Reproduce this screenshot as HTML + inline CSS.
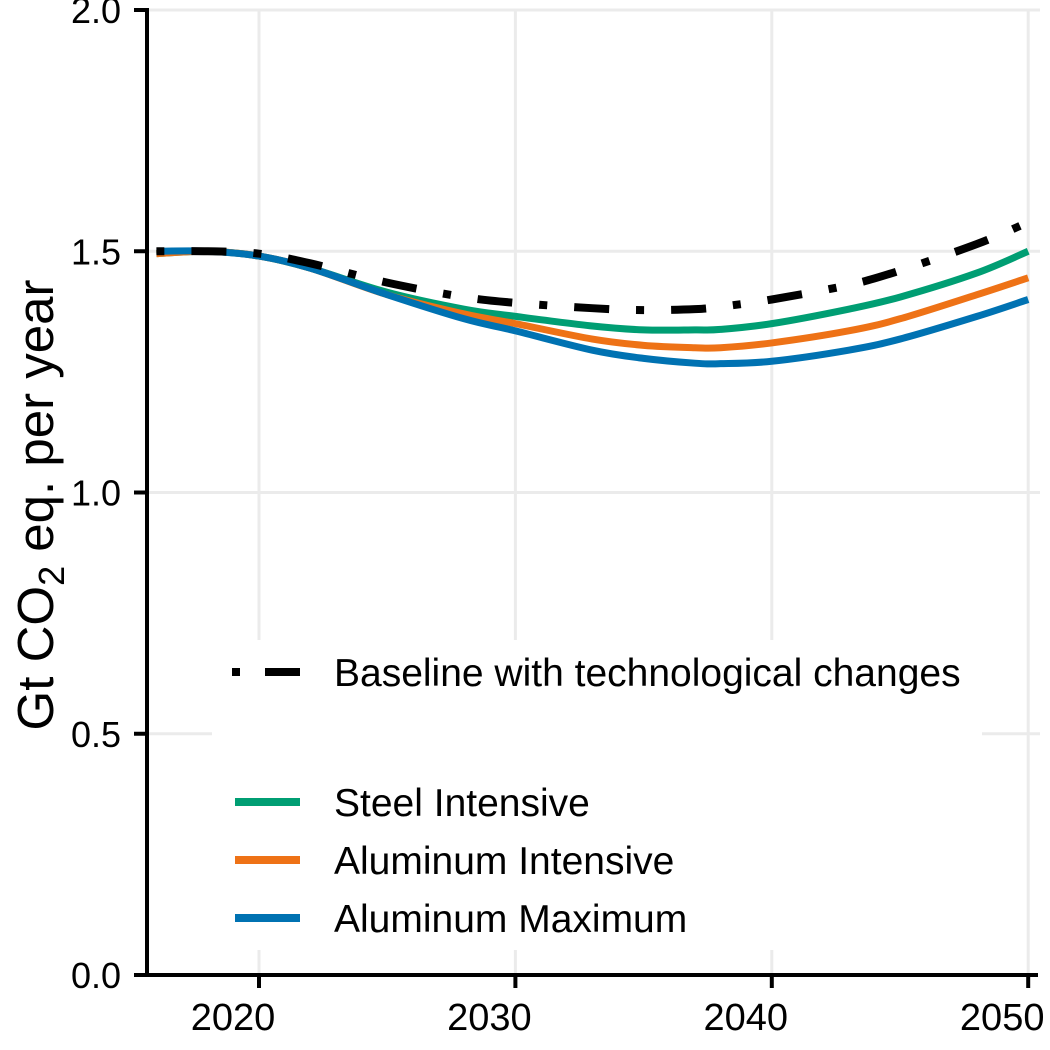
<!DOCTYPE html>
<html><head><meta charset="utf-8"><style>
body{margin:0;background:#fff;}
svg{display:block;font-family:"Liberation Sans",Arial,sans-serif;}
</style></head><body>
<svg id="chart" width="1050" height="1050" viewBox="0 0 1050 1050">
<g id="grid"></g>
<rect x="212" y="640" width="770" height="310" fill="#fff"/>
<g id="series"></g>
<g id="axes"></g>
<text transform="translate(53,505) rotate(-90)" text-anchor="middle" font-size="51" fill="#000">Gt CO<tspan font-size="36" dy="11">2</tspan><tspan dy="-11"> eq. per year</tspan></text>
<g font-size="39">
<line x1="232" y1="672" x2="300" y2="672" stroke="#000" stroke-width="8" stroke-dasharray="8 25 35 25"/>
<text x="334" y="686">Baseline with technological changes</text>
<line x1="235" y1="802" x2="300" y2="802" stroke="#009E73" stroke-width="8"/>
<text x="334" y="816">Steel Intensive</text>
<line x1="235" y1="860" x2="300" y2="860" stroke="#EE7216" stroke-width="8"/>
<text x="334" y="874">Aluminum Intensive</text>
<line x1="235" y1="918" x2="300" y2="918" stroke="#0072B2" stroke-width="8"/>
<text x="334" y="932">Aluminum Maximum</text>
</g>
</svg>
<script>
const years = [2016,2018,2020,2022,2025,2028,2030,2033,2035,2037,2038,2040,2043,2045,2048,2050];
const steel = [1.495,1.5,1.49,1.465,1.415,1.38,1.365,1.345,1.337,1.337,1.338,1.35,1.38,1.405,1.455,1.50];
const aluInt = [1.495,1.5,1.49,1.465,1.41,1.37,1.35,1.318,1.305,1.30,1.30,1.31,1.335,1.36,1.41,1.445];
const aluMax = [1.5,1.5,1.49,1.465,1.41,1.36,1.335,1.295,1.278,1.268,1.267,1.272,1.295,1.318,1.365,1.40];
const baseline = [1.5,1.5,1.495,1.475,1.435,1.405,1.393,1.382,1.378,1.38,1.385,1.40,1.43,1.46,1.515,1.56];
const xTicks = [2020,2030,2040,2050];
const yTicks = [0,0.5,1.0,1.5,2.0];
const yTickLabels = ["0.0","0.5","1.0","1.5","2.0"];

const NS="http://www.w3.org/2000/svg";
const x = yr => 259 + (yr-2020)*25.64;
const y = v => 975 - v*482.5;
function mk(tag, attrs, parent){const e=document.createElementNS(NS,tag);for(const k in attrs)e.setAttribute(k,attrs[k]);parent.appendChild(e);return e;}
const grid=document.getElementById('grid'), axes=document.getElementById('axes'), series=document.getElementById('series');
yTicks.forEach((t,i)=>{
  if(t>0){const g=mk('line',{x1:147,x2:1040,y1:y(t),y2:y(t),stroke:'#ebebeb','stroke-width':3},grid);
  
  }
  const tk=mk('line',{x1:134,x2:147,y1:y(t),y2:y(t),stroke:'#000','stroke-width':4},axes);
  
  
  const lb=mk('text',{x:121,y:y(t)+13,'text-anchor':'end','font-size':36,fill:'#000'},axes);
  lb.textContent=yTickLabels[i];
  
  
});
xTicks.forEach((t,i)=>{
  const g=mk('line',{x1:x(t),x2:x(t),y1:10,y2:975,stroke:'#ebebeb','stroke-width':3},grid);
  
  
  const tk=mk('line',{x1:x(t),x2:x(t),y1:975,y2:988,stroke:'#000','stroke-width':4},axes);
  
  
  const lb=mk('text',{x:x(t)-26,y:1030,'text-anchor':'middle','font-size':38,fill:'#000'},axes);
  lb.textContent=String(t);
  
  
});
const ya=mk('line',{x1:147,x2:147,y1:8,y2:977,stroke:'#000','stroke-width':4},axes);


const xa=mk('line',{x1:145,x2:1038,y1:975,y2:975,stroke:'#000','stroke-width':4},axes);



function path(vals){
  const p=years.map((yr,i)=>[x(yr),y(vals[i])]);
  let d='M'+p[0][0]+','+p[0][1];
  for(let i=0;i<p.length-1;i++){
    const p0=p[Math.max(0,i-1)],p1=p[i],p2=p[i+1],p3=p[Math.min(p.length-1,i+2)];
    const c1=[p1[0]+(p2[0]-p0[0])/6,p1[1]+(p2[1]-p0[1])/6];
    const c2=[p2[0]-(p3[0]-p1[0])/6,p2[1]-(p3[1]-p1[1])/6];
    d+=` C${c1[0]},${c1[1]} ${c2[0]},${c2[1]} ${p2[0]},${p2[1]}`;
  }
  return d;
}
const s1=mk('path',{d:path(steel),fill:'none',stroke:'#009E73','stroke-width':7},series);


const s2=mk('path',{d:path(aluInt),fill:'none',stroke:'#EE7216','stroke-width':7},series);


const s3=mk('path',{d:path(aluMax),fill:'none',stroke:'#0072B2','stroke-width':7},series);


const s4=mk('path',{d:path(baseline),fill:'none',stroke:'#000','stroke-width':8,'stroke-dasharray':'8 27 35 27'},series);


</script>
</body></html>
